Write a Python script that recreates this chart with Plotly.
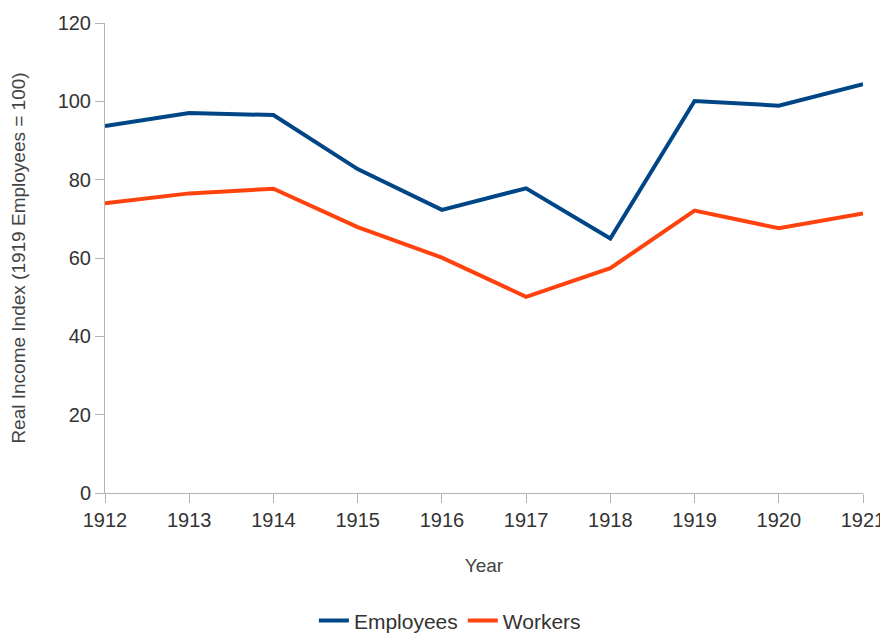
import plotly.graph_objects as go

years = [1912, 1913, 1914, 1915, 1916, 1917, 1918, 1919, 1920, 1921]
employees = [93.7, 97.0, 96.5, 82.7, 72.3, 77.8, 65.0, 100.1, 98.9, 104.4]
workers = [74.0, 76.5, 77.7, 67.9, 60.1, 50.1, 57.4, 72.1, 67.6, 71.4]

font = "Liberation Sans, Arial, sans-serif"

fig = go.Figure()
fig.add_trace(go.Scatter(x=years, y=employees, mode="lines", name="Employees",
                         line=dict(color="#004586", width=4)))
fig.add_trace(go.Scatter(x=years, y=workers, mode="lines", name="Workers",
                         line=dict(color="#ff420e", width=4)))

fig.update_layout(
    width=880, height=629,
    paper_bgcolor="white", plot_bgcolor="white",
    margin=dict(l=97, r=25, t=15, b=144, autoexpand=False),
    font=dict(family=font, color="#444444"),
    showlegend=True,
    legend=dict(orientation="h", x=0.455, xanchor="center", y=-0.272, yanchor="middle",
                font=dict(size=21, color="#333333"), traceorder="normal"),
    xaxis=dict(
        range=[1912, 1921], tickmode="array", tickvals=years,
        ticktext=[str(y) for y in years],
        showgrid=False, zeroline=False, showline=True, linecolor="#b3b3b3", linewidth=1,
        ticks="outside", ticklen=9, tickcolor="#b3b3b3",
        tickfont=dict(size=20, color="#333333"),
        title=dict(text="Year", font=dict(size=19, color="#444444"), standoff=28),
    ),
    yaxis=dict(
        range=[0, 120], tickmode="array", tickvals=[0, 20, 40, 60, 80, 100, 120],
        showgrid=False, zeroline=False, showline=True, linecolor="#b3b3b3", linewidth=1,
        ticks="outside", ticklen=9, tickcolor="#b3b3b3",
        tickfont=dict(size=20, color="#333333"),
        title=dict(text="Real Income Index (1919 Employees = 100)", font=dict(size=19, color="#444444"), standoff=27),
    ),
)

fig.write_html("out.html")
